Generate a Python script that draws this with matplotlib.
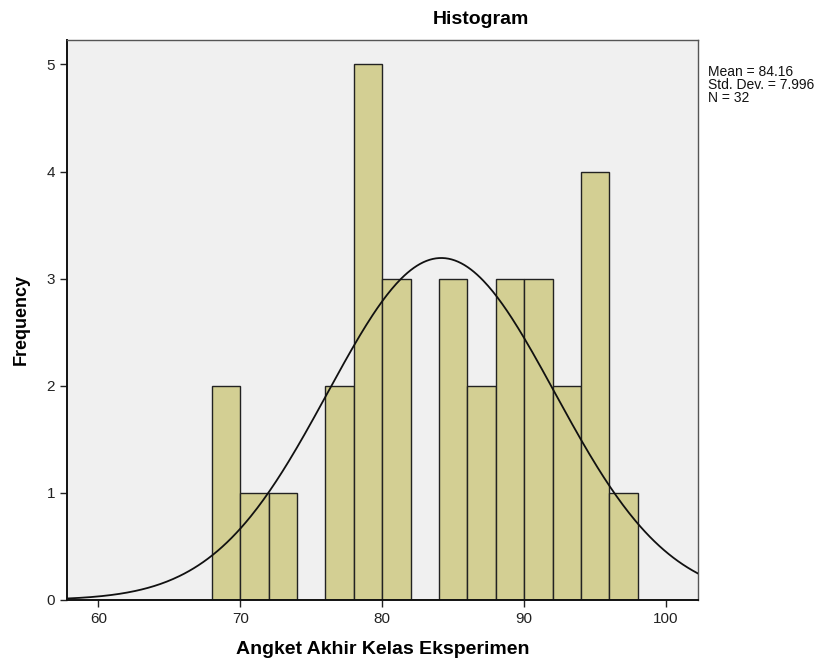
import numpy as np
import matplotlib.pyplot as plt

plt.rcParams["font.family"] = ["Liberation Sans", "DejaVu Sans"]

# bin edges and frequencies
bin_edges = [68, 70, 72, 74, 76, 78, 80, 82, 84, 86, 88, 90, 92, 94, 96, 98]
counts = [2, 1, 1, 0, 2, 5, 3, 0, 3, 2, 3, 3, 2, 4, 1]
mean = 84.16
std_dev = 7.996
n = 32

x_ticks = [60, 70, 80, 90, 100]
y_ticks = [0, 1, 2, 3, 4, 5]

fig = plt.figure(figsize=(8.38, 6.64), dpi=100)
ax = fig.add_axes([0.080, 0.0964, 0.753, 0.8436])
ax.set_facecolor("#F0F0F0")

widths = np.diff(bin_edges)
ax.bar(bin_edges[:-1], counts, width=widths, align="edge",
       color="#D3CF93", edgecolor="#222222", linewidth=1.0, zorder=2)

# normal curve scaled to the counts (N * bin width * pdf)
xs = np.linspace(57.8, 102.3, 400)
bw = widths[0]
ys = n * bw / (std_dev * np.sqrt(2 * np.pi)) * np.exp(-0.5 * ((xs - mean) / std_dev) ** 2)
ax.plot(xs, ys, color="#111111", linewidth=1.3, zorder=3)

ax.set_xlim(57.8, 102.25)
ax.set_ylim(0, 5.23)
ax.set_xticks(x_ticks)
ax.set_yticks(y_ticks)
ax.tick_params(direction="out", length=5, width=1, labelsize=11, colors="#222222")

for side in ["left", "bottom"]:
    ax.spines[side].set_linewidth(1.4)
    ax.spines[side].set_color("#111111")
for side in ["top", "right"]:
    ax.spines[side].set_linewidth(1.0)
    ax.spines[side].set_color("#555555")

ax.set_xlabel("Angket Akhir Kelas Eksperimen", fontsize=14, fontweight="bold", labelpad=11)
ax.set_ylabel("Frequency", fontsize=13, fontweight="bold", labelpad=12)
fig.text(0.574, 0.97, "Histogram", fontsize=14, fontweight="bold", ha="center", va="center")

fig.text(0.845, 0.902, "Mean = %.2f\nStd. Dev. = %.3f\nN = %d" % (mean, std_dev, n),
         fontsize=10, va="top", ha="left", linespacing=0.9, color="#111111")

fig.savefig("out.png", dpi=100)
